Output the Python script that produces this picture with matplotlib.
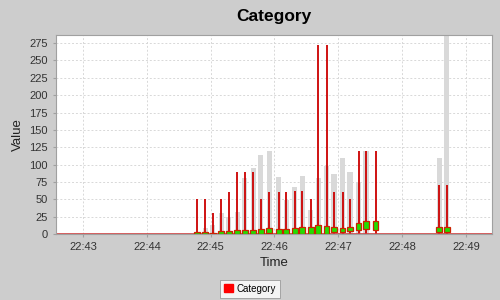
import pandas as pd
import matplotlib
matplotlib.use("Agg")
import matplotlib.pyplot as plt
import matplotlib.dates as mdates
from matplotlib.patches import Patch

plt.rcParams['font.family'] = ['Liberation Sans', 'DejaVu Sans']

# candle times
times = ["22:44:47", "22:44:55", "22:45:02", "22:45:10", "22:45:17", "22:45:25",
         "22:45:32", "22:45:40", "22:45:47", "22:45:55", "22:46:04", "22:46:11",
         "22:46:19", "22:46:26", "22:46:34", "22:46:41", "22:46:49", "22:46:56",
         "22:47:04", "22:47:11", "22:47:19", "22:47:26", "22:47:35",
         "22:48:35", "22:48:42"]
opens = [0, 0, 0, 0.5, 0.5, 0.5, 0.5, 0.5, 0.5, 1, 0.5, 0.5,
         0, 0.5, 0.5, 0.5, 0.5, 2.5, 2.5, 4.5, 6, 6.5, 6, 3.5, 3.5]
closes = [2.5, 2.5, 1, 4.5, 4.5, 6, 6, 6, 7, 9, 7, 7,
          8, 9.5, 9.5, 12.5, 11, 9.5, 8.5, 10, 15.5, 18.5, 18.5, 9.5, 9.5]
highs = [50, 50, 30, 50, 60, 90, 90, 90, 50, 60, 60, 60,
         62, 62, 50, 272, 272, 60, 60, 50, 120, 120, 120, 70, 70]
lows = [0] * 25
volumes = [3, 9, 13, 30, 25, 31, 81, 95, 114, 120, 82, 49,
           68, 84, 35, 80, 98, 86, 109, 90, 73, 120, 0, 109, 300]

day = "2024-01-01 "
x = mdates.date2num(pd.to_datetime([day + t for t in times]))
sec = 1.0 / 86400

fig = plt.figure(figsize=(5, 3), dpi=100, facecolor='#cdcdcd')
ax = fig.add_axes([0.112, 0.22, 0.872, 0.663])
ax.set_facecolor('white')

# volume bars behind
ax.bar(x, volumes, width=4.8 * sec, color='#d9d9d9', zorder=1)

# wicks and bodies
ax.vlines(x, lows, highs, color='#cc0000', linewidth=1.3, zorder=2)
bottoms = [min(o, c) for o, c in zip(opens, closes)]
heights = [abs(c - o) for o, c in zip(opens, closes)]
ax.bar(x, heights, bottom=bottoms, width=5.4 * sec, color='#22dd00',
       edgecolor='#cc2200', linewidth=0.9, zorder=3)
ax.axhline(0, color='#d04040', linewidth=1.2, zorder=2)

ax.set_xlim(mdates.date2num(pd.Timestamp(day + "22:42:34.6")),
            mdates.date2num(pd.Timestamp(day + "22:49:24.5")))
ax.set_ylim(0, 286.5)
ax.set_yticks(range(0, 276, 25))
ax.xaxis.set_major_locator(mdates.MinuteLocator())
ax.xaxis.set_major_formatter(mdates.DateFormatter('%H:%M'))

ax.grid(True, color='#d8d8d8', linestyle=(0, (2, 2)), linewidth=0.7)
ax.set_axisbelow(True)
for s in ax.spines.values():
    s.set_color('#a0a0a0')
    s.set_linewidth(0.8)
ax.tick_params(labelsize=8, length=2, color='#a0a0a0', pad=4, labelcolor='#333333')

ax.set_title('Category', fontsize=12.5, fontweight='bold', pad=10)
ax.set_xlabel('Time', fontsize=9.5, labelpad=3, color='#222222')
ax.set_ylabel('Value', fontsize=9.5, labelpad=4, color='#222222')

leg = fig.legend(handles=[Patch(facecolor='red', edgecolor='red')], labels=['Category'],
                 loc='lower center', bbox_to_anchor=(0.5, 0.008), fontsize=7,
                 frameon=True, fancybox=False, handlelength=0.9, handleheight=0.9,
                 borderpad=0.4, handletextpad=0.4, borderaxespad=0)
leg.get_frame().set_edgecolor('#888888')
leg.get_frame().set_linewidth(0.6)

fig.savefig('out.png', dpi=100, facecolor=fig.get_facecolor())
